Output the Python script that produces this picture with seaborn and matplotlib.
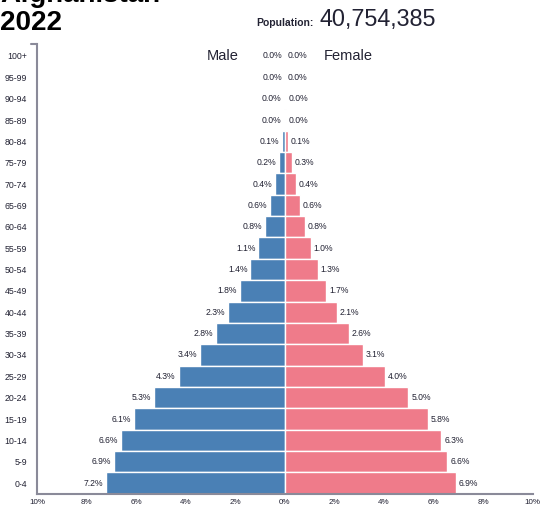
import seaborn as sns
import pandas as pd
import matplotlib.pyplot as plt

# data (percent of total population)
age_groups = ["100+", "95-99", "90-94", "85-89", "80-84", "75-79", "70-74",
              "65-69", "60-64", "55-59", "50-54", "45-49", "40-44", "35-39",
              "30-34", "25-29", "20-24", "15-19", "10-14", "5-9", "0-4"]
male = [0.0, 0.0, 0.01, 0.04, 0.12, 0.22, 0.38, 0.58, 0.8, 1.07, 1.39, 1.8,
        2.28, 2.79, 3.43, 4.29, 5.28, 6.1, 6.63, 6.9, 7.23]
female = [0.0, 0.0, 0.02, 0.04, 0.13, 0.27, 0.44, 0.6, 0.8, 1.04, 1.32, 1.66,
          2.1, 2.58, 3.14, 4.03, 4.98, 5.77, 6.32, 6.56, 6.89]
xticks = [-10, -8, -6, -4, -2, 0, 2, 4, 6, 8, 10]

df = pd.DataFrame({"age": age_groups, "male": male, "female": female})
df["male_neg"] = -df["male"]

sns.set_theme(style="white")
plt.rcParams['font.family'] = ['Liberation Sans', 'DejaVu Sans']

blue = "#4a80b5"
pink = "#ef7b8a"
txt = "#222233"
axcol = "#8a8a99"

fig = plt.figure(figsize=(5.4, 5.08), dpi=100)
ax = fig.add_axes([0.0685, 0.028, 0.918, 0.885])

sns.barplot(data=df, x="male_neg", y="age", orient="h", color=blue,
            width=1.0, edgecolor="white", linewidth=1.0, saturation=1, ax=ax)
sns.barplot(data=df, x="female", y="age", orient="h", color=pink,
            width=1.0, edgecolor="white", linewidth=1.0, saturation=1, ax=ax)

ax.set_xlim(-10, 10)
ax.set_ylim(20.5, -0.55)
ax.set_xticks(xticks)
ax.set_xticklabels([f"{abs(t)}%" for t in xticks], fontsize=5.8, color=txt)
ax.tick_params(axis="x", length=3, width=1, color=axcol, pad=0.5)
ax.tick_params(axis="y", length=0, pad=7, labelsize=6.3, labelcolor=txt)
ax.set_xlabel("")
ax.set_ylabel("")

for side in ["top", "right"]:
    ax.spines[side].set_visible(False)
for side in ["left", "bottom"]:
    ax.spines[side].set_color(axcol)
    ax.spines[side].set_linewidth(1.5)
# small outer tick at the top of the y axis
ax.plot([-0.012, 0], [1, 1], transform=ax.transAxes, color=axcol, lw=1.5,
        clip_on=False)

# value labels
for i, (m, f) in enumerate(zip(male, female)):
    ax.text(-m - 0.12, i, f"{m:.1f}%", ha="right", va="center",
            fontsize=6.2, color=txt)
    ax.text(f + 0.12, i, f"{f:.1f}%", ha="left", va="center",
            fontsize=6.2, color=txt)

ax.text(-1.85, 0, "Male", ha="right", va="center", fontsize=10.5, color=txt)
ax.text(1.57, 0, "Female", ha="left", va="center", fontsize=10.5, color=txt)

# header
fig.text(0.0, 1.0 - 2 / 508, "Afghanistan", ha="left", va="baseline",
         fontsize=20, fontweight="bold", color="black")
fig.text(0.0, 1.0 - 30 / 508, "2022", ha="left", va="baseline",
         fontsize=20, fontweight="bold", color="black")
fig.text(256 / 540, 1.0 - 26 / 508, "Population:", ha="left", va="baseline",
         fontsize=7.5, fontweight="bold", color=txt)
fig.text(319 / 540, 1.0 - 26 / 508, "40,754,385", ha="left", va="baseline",
         fontsize=16.8, color=txt)

fig.savefig("out.png", dpi=100)
